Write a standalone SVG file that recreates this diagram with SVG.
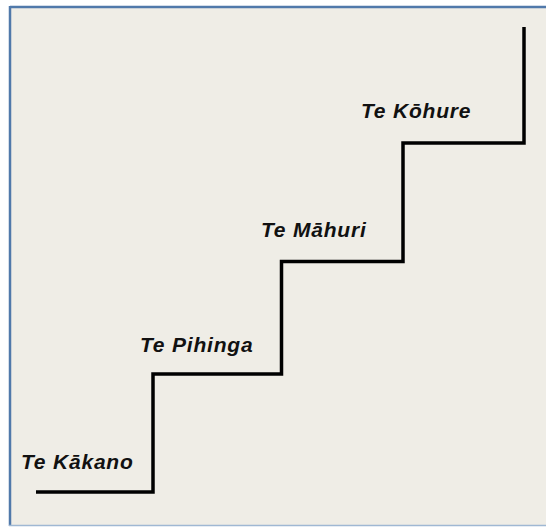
<svg xmlns="http://www.w3.org/2000/svg" width="546" height="527" viewBox="0 0 546 527">
<style>
.lbl{font-family:"Liberation Sans",Arial,sans-serif;font-size:21px;font-weight:bold;font-style:italic;letter-spacing:0.8px;fill:#111}
.stair{fill:none;stroke:#000;stroke-width:3.5;stroke-linejoin:miter;stroke-linecap:butt}
</style>
<rect x="0" y="0" width="546" height="527" fill="#ffffff"/>
<rect x="10" y="7" width="540" height="518" fill="#efede6"/>
<line x1="10" y1="7" x2="546" y2="7" stroke="#5079aa" stroke-width="2.5"/>
<line x1="10" y1="6" x2="10" y2="526" stroke="#5079aa" stroke-width="2.5"/>
<line x1="9" y1="525.5" x2="546" y2="525.5" stroke="#9fb8d3" stroke-width="1.5"/>
<g id="connectors">
<path class="stair" d="M36 492 H153 V374 H281.5 V261.5 H403 V143 H524 V27"/>
</g>
<g id="n1"><text class="lbl" x="21" y="469">Te Kākano</text></g>
<g id="n2"><text class="lbl" x="140" y="352">Te Pihinga</text></g>
<g id="n3"><text class="lbl" x="261" y="237">Te Māhuri</text></g>
<g id="n4"><text class="lbl" x="361" y="118">Te Kōhure</text></g>
</svg>
